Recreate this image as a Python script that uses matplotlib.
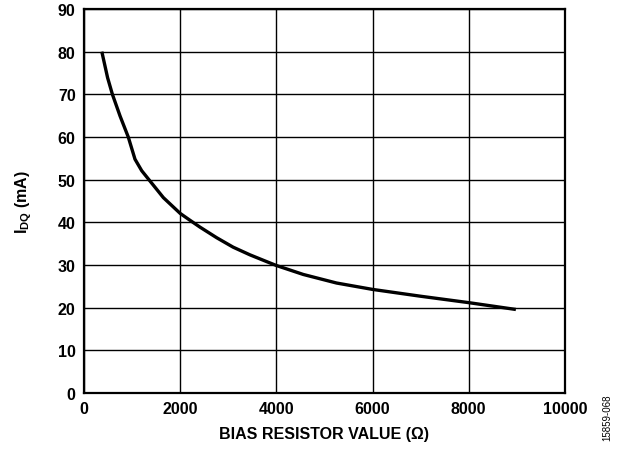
import numpy as np
import matplotlib
matplotlib.use('Agg')
import matplotlib.pyplot as plt

plt.rcParams['font.family'] = ['Liberation Sans', 'DejaVu Sans']
plt.rcParams['font.weight'] = 'bold'
plt.rcParams['mathtext.fontset'] = 'custom'
plt.rcParams['mathtext.rm'] = 'Liberation Sans:bold'
plt.rcParams['mathtext.bf'] = 'Liberation Sans:bold'

# Curve
resistor = [370, 490, 590, 750, 920, 1060, 1200, 1350, 1650, 2000, 2190, 2410,
            2760, 3100, 3450, 3800, 4000, 4560, 5250, 6000, 7000, 8000, 8980]
idq = [80, 73.9, 70, 64.9, 60, 54.8, 52.1, 50, 45.8, 42.1, 40.6, 38.9,
       36.4, 34.2, 32.4, 30.8, 29.9, 27.8, 25.8, 24.3, 22.7, 21.2, 19.6]

x_ticks = [0, 2000, 4000, 6000, 8000, 10000]
y_ticks = [0, 10, 20, 30, 40, 50, 60, 70, 80, 90]

fig = plt.figure(figsize=(6.27, 4.52), dpi=100)
ax = fig.add_axes([0.134, 0.128, 0.767, 0.850])

ax.plot(resistor, idq, color='black', linewidth=2.4, solid_joinstyle='round',
        solid_capstyle='butt', zorder=3)

ax.set_xlim(0, 10000)
ax.set_ylim(0, 90)
ax.set_xticks(x_ticks)
ax.set_yticks(y_ticks)
ax.grid(True, color='black', linewidth=1.0)
ax.tick_params(length=0, labelsize=11.5, pad=6)
for lbl in ax.get_xticklabels() + ax.get_yticklabels():
    lbl.set_fontweight('bold')
for s in ax.spines.values():
    s.set_linewidth(1.6)

ax.set_xlabel('BIAS RESISTOR VALUE (Ω)', fontsize=11.5, fontweight='bold', labelpad=7)
ax.set_ylabel(r'I$_{\mathrm{DQ}}$ (mA)', fontsize=11.5, fontweight='bold', labelpad=17)

fig.text(0.969, 0.076, '15859-068', rotation=90, fontsize=7, fontweight='normal',
         ha='center', va='center')

fig.savefig('out.png', dpi=100)
